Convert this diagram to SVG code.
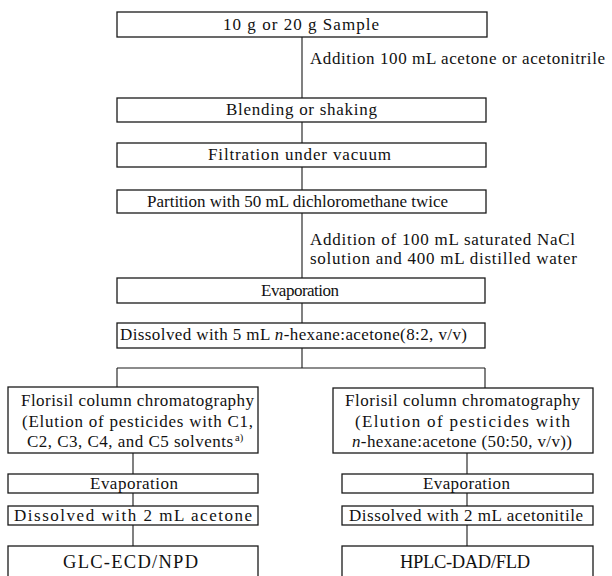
<svg xmlns="http://www.w3.org/2000/svg" width="612" height="576" viewBox="0 0 612 576">
<style>
.b{fill:#fff;stroke:#1a1a1a;stroke-width:1.3}
.c{fill:none;stroke:#1a1a1a;stroke-width:1.1}
text{font-family:"Liberation Serif","Times New Roman",serif;font-size:17px;fill:#111}
.i{font-style:italic}
.s{font-size:10.5px}
.l{font-size:18.5px}
</style>
<rect width="612" height="576" fill="#fff"/>
<g id="connectors">
<path class="c" d="M302,37V98M302,122V143M302,167V190M302,213V278M302,303V323M302,348V368M117,368H485M117,368V387M485,368V389M133,453V474M133,493V506M133,525V546M467,453V474M467,493V506M467,525V546"/>
</g>
<g id="sample"><rect class="b" x="117" y="12" width="370" height="25"/><text x="223" y="30" textLength="156" lengthAdjust="spacing">10 g or 20 g Sample</text></g>
<g id="add1"><text x="310" y="64" textLength="295" lengthAdjust="spacing">Addition 100 mL acetone or acetonitrile</text></g>
<g id="blend"><rect class="b" x="117" y="98" width="369" height="24"/><text x="226" y="115" textLength="151" lengthAdjust="spacing">Blending or shaking</text></g>
<g id="filt"><rect class="b" x="117" y="143" width="369" height="24"/><text x="208" y="160" textLength="183" lengthAdjust="spacing">Filtration under vacuum</text></g>
<g id="part"><rect class="b" x="117" y="190" width="369" height="23"/><text x="147" y="207" textLength="301" lengthAdjust="spacing">Partition with 50 mL dichloromethane twice</text></g>
<g id="add2"><text x="310" y="245" textLength="265" lengthAdjust="spacing">Addition of 100 mL saturated NaCl</text><text x="310" y="264" textLength="267" lengthAdjust="spacing">solution and 400 mL distilled water</text></g>
<g id="evap1"><rect class="b" x="117" y="278" width="368" height="25"/><text x="261" y="296" textLength="78" lengthAdjust="spacing">Evaporation</text></g>
<g id="diss1"><rect class="b" x="117" y="323" width="368" height="25"/><text x="120" y="340" textLength="347" lengthAdjust="spacing">Dissolved with 5 mL <tspan class="i">n</tspan>-hexane:acetone(8:2, v/v)</text></g>
<g id="flor1"><rect class="b" x="8" y="387" width="250" height="66"/>
<text x="21" y="406" textLength="233" lengthAdjust="spacing">Florisil column chromatography</text>
<text x="22" y="427" textLength="231" lengthAdjust="spacing">(Elution of pesticides with C1,</text>
<text x="27" y="447" textLength="206" lengthAdjust="spacing">C2, C3, C4, and C5 solvents</text><text class="s" x="235" y="441">a)</text></g>
<g id="flor2"><rect class="b" x="333" y="388" width="260" height="65"/>
<text x="345" y="406" textLength="235" lengthAdjust="spacing">Florisil column chromatography</text>
<text x="355" y="427" textLength="215" lengthAdjust="spacing">(Elution of pesticides with</text>
<text x="352" y="447" textLength="220" lengthAdjust="spacing"><tspan class="i">n</tspan>-hexane:acetone (50:50, v/v))</text></g>
<g id="evap2"><rect class="b" x="8" y="474" width="250" height="19"/><text x="90" y="489" textLength="88" lengthAdjust="spacing">Evaporation</text></g>
<g id="evap3"><rect class="b" x="342" y="474" width="251" height="19"/><text x="423" y="489" textLength="87" lengthAdjust="spacing">Evaporation</text></g>
<g id="diss2"><rect class="b" x="8" y="506" width="250" height="19"/><text x="14" y="521" textLength="238" lengthAdjust="spacing">Dissolved with 2 mL acetone</text></g>
<g id="diss3"><rect class="b" x="342" y="506" width="251" height="19"/><text x="349" y="521" textLength="234" lengthAdjust="spacing">Dissolved with 2 mL acetonitile</text></g>
<g id="glc"><rect class="b" x="8" y="546" width="250" height="40"/><text class="l" x="63" y="568" textLength="135" lengthAdjust="spacing">GLC-ECD/NPD</text></g>
<g id="hplc"><rect class="b" x="342" y="546" width="251" height="40"/><text class="l" x="400" y="568" textLength="130" lengthAdjust="spacing">HPLC-DAD/FLD</text></g>
</svg>
